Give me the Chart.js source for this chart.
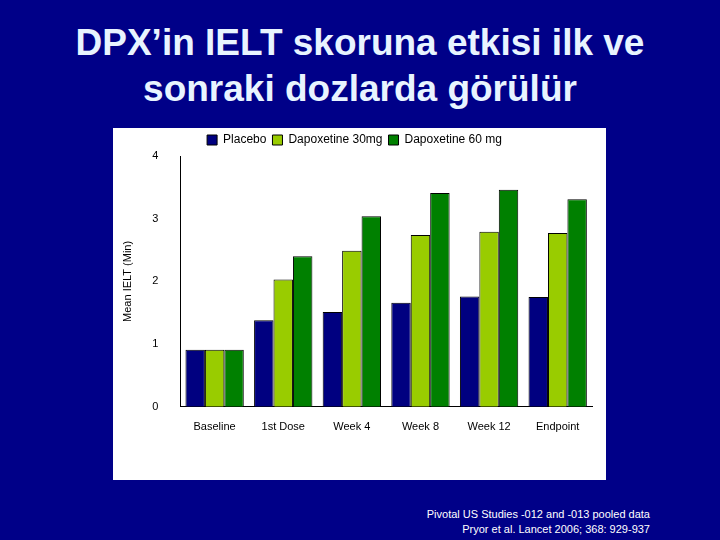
<!DOCTYPE html>
<html><head><meta charset="utf-8">
<script src="https://cdn.jsdelivr.net/npm/chart.js@4"></script>
<style>
body{margin:0;width:720px;height:540px;background:#000088;position:relative;overflow:hidden;font-family:"Liberation Sans",Arial,sans-serif}
#t{position:absolute;top:20px;left:0;width:720px;text-align:center;color:#e8f4ff;font-size:37px;font-weight:bold;line-height:46px}
#box{position:absolute;left:113px;top:128px;width:493px;height:352px;background:#fff}
#f{position:absolute;right:70px;top:507px;color:#fff;font-size:11px;text-align:right;line-height:15px}
</style></head><body>
<div id="t">DPX’in IELT skoruna etkisi ilk ve<br>sonraki dozlarda görülür</div>
<div id="box"><canvas id="c" width="493" height="352"></canvas></div>
<div id="f">Pivotal US Studies -012 and -013 pooled data<br>Pryor et al. Lancet 2006; 368: 929-937</div>
<script>
const categories=["Baseline","1st Dose","Week 4","Week 8","Week 12","Endpoint"];
const placebo=[0.91,1.38,1.51,1.66,1.76,1.75];
const dapo30=[0.91,2.03,2.49,2.74,2.79,2.77];
const dapo60=[0.91,2.40,3.04,3.41,3.46,3.31];
new Chart(document.getElementById('c'),{type:'bar',
data:{labels:categories,datasets:[
{label:'Placebo',data:placebo,backgroundColor:'#000080',borderColor:'#000',borderWidth:1},
{label:'Dapoxetine 30mg',data:dapo30,backgroundColor:'#99cc00',borderColor:'#000',borderWidth:1},
{label:'Dapoxetine 60 mg',data:dapo60,backgroundColor:'#008000',borderColor:'#000',borderWidth:1}]},
options:{responsive:false,animation:false,
layout:{padding:{left:4,right:14,bottom:40,top:0}},
datasets:{bar:{categoryPercentage:0.85,barPercentage:1}},
plugins:{legend:{position:'top',labels:{boxWidth:10,boxHeight:10,font:{size:12},color:'#000',padding:6}},tooltip:{enabled:false}},
scales:{x:{grid:{display:false,drawTicks:true},border:{color:'#000'},ticks:{color:'#000',font:{size:11},padding:6}},
y:{min:0,max:4,ticks:{stepSize:1,color:'#000',font:{size:11},padding:14},grid:{display:false},border:{color:'#000'},
title:{display:true,text:'Mean IELT (Min)',color:'#000',font:{size:11}}}}}});
</script></body></html>
